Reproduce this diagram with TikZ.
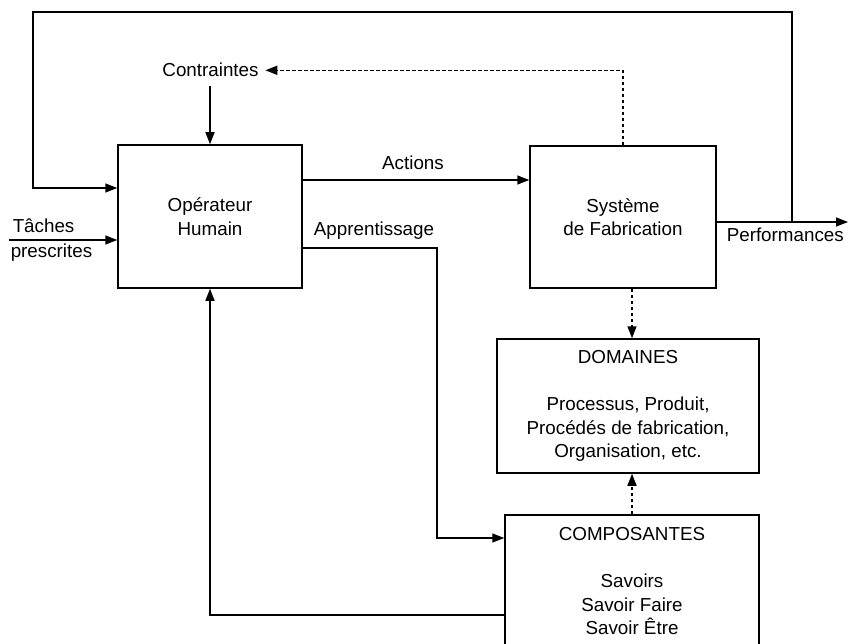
\documentclass[tikz,border=0pt]{standalone}
\usepackage{fontspec}
\setmainfont{Liberation Sans}
\usetikzlibrary{arrows.meta}
\begin{document}
\begin{tikzpicture}[x=1pt,y=-1pt,
  font=\fontsize{18.8}{23.5}\selectfont,
  line width=1.5pt,
  box/.style={draw, rectangle, inner sep=0pt, align=center},
  lbl/.style={inner sep=0pt, anchor=base},
  arr/.style={-{Triangle[length=12pt,width=9pt]}},
  dsh/.style={dash pattern=on 3.5pt off 2.5pt}]
\useasboundingbox (0,0) rectangle (848,644);
% boxes
\node[box, minimum width=184pt, minimum height=143pt] (op) at (210,216.5) {Opérateur\\Humain};
\node[box, minimum width=186pt, minimum height=142pt] (sys) at (623,217) {Système\\de Fabrication};
\node[box, minimum width=262pt, minimum height=134pt] (dom) at (628,406) {DOMAINES\\[23.5pt]Processus, Produit,\\Procédés de fabrication,\\Organisation, etc.};
\node[box, minimum width=254pt, minimum height=133pt] (comp) at (632,581.5) {COMPOSANTES\\[23.5pt]Savoirs\\Savoir Faire\\Savoir Être};
% labels
\node[lbl] (contr) at (210.5,77) {Contraintes};
\node[lbl] (act) at (413,170) {Actions};
\node[lbl] (app) at (374,236) {Apprentissage};
\node[lbl, anchor=base west] (tach) at (12,232.5) {Tâches};
\node[lbl, anchor=base west] (presc) at (10,258) {prescrites};
\node[lbl, anchor=base west] (perf) at (726,242) {Performances};
% coordinates
\coordinate (yact) at (0,180);
\coordinate (yapp) at (0,248);
\coordinate (xapp) at (437,0);
\coordinate (ycomp) at (0,538);
\coordinate (ybot) at (0,615);
\coordinate (yperf) at (0,222);
\coordinate (pout) at (848,222);
\coordinate (pj) at (792,222);
\coordinate (tr) at (792,12);
\coordinate (tl) at (33,12);
\coordinate (fb) at (33,188);
\coordinate (tin) at (9,240);
\coordinate (xd) at (632,0);
\coordinate (cstart) at (210,86);
% connectors
\draw[arr] (sys.east |- yperf) -- (pout);
\draw[arr] (pj) -- (tr) -- (tl) -- (fb) -- (op.west |- fb);
\draw[arr] (tin) -- (op.west |- tin);
\draw[arr] (cstart) -- (op.north);
\draw[arr, dsh] (sys.north) -- (sys.north |- contr.east) -- ([xshift=6pt]contr.east);
\draw[arr] (op.east |- yact) -- (sys.west |- yact);
\draw[arr] (op.east |- yapp) -- (xapp |- yapp) -- (xapp |- ycomp) -- (comp.west |- ycomp);
\draw[arr] (comp.west |- ybot) -- (op.south |- ybot) -- (op.south);
\draw[arr, dsh] (sys.south -| xd) -- (dom.north -| xd);
\draw[arr, dsh] (comp.north -| xd) -- (dom.south -| xd);
\end{tikzpicture}
\end{document}
